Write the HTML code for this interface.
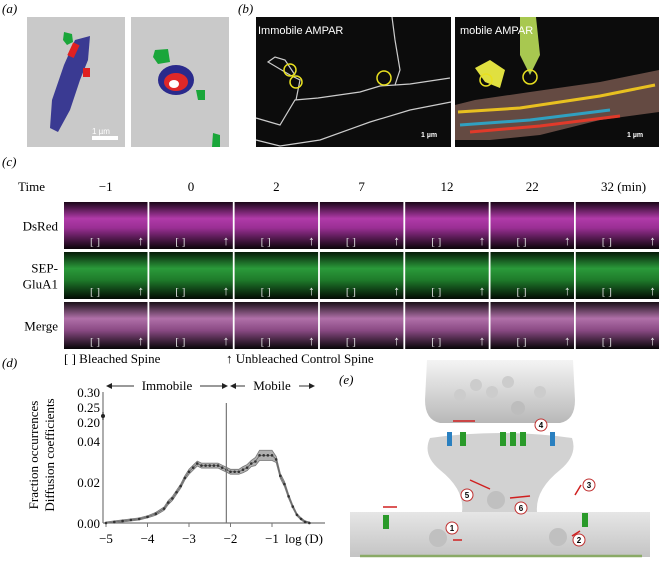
<!DOCTYPE html>
<html><head><meta charset="utf-8">
<style>
html,body{margin:0;padding:0;background:#fff;}
svg{display:block;font-family:"Liberation Serif",serif;}
.sans{font-family:"Liberation Sans",sans-serif;}
</style></head>
<body>
<svg id="fig" width="659" height="565" viewBox="0 0 659 565" xmlns="http://www.w3.org/2000/svg">
<defs>
 <linearGradient id="mag" x1="0" y1="0" x2="0" y2="1">
  <stop offset="0" stop-color="#1a0618"/><stop offset="0.35" stop-color="#b03aa8"/><stop offset="0.55" stop-color="#9a2f94"/><stop offset="1" stop-color="#0a0308"/>
 </linearGradient>
 <linearGradient id="grn" x1="0" y1="0" x2="0" y2="1">
  <stop offset="0" stop-color="#061a08"/><stop offset="0.35" stop-color="#2a9a3a"/><stop offset="0.6" stop-color="#1e7a2a"/><stop offset="1" stop-color="#020a03"/>
 </linearGradient>
 <linearGradient id="mrg" x1="0" y1="0" x2="0" y2="1">
  <stop offset="0" stop-color="#1a1018"/><stop offset="0.35" stop-color="#b070a8"/><stop offset="0.6" stop-color="#8a4a84"/><stop offset="1" stop-color="#060406"/>
 </linearGradient>
 <linearGradient id="gr1" x1="0" y1="0" x2="0" y2="1">
  <stop offset="0" stop-color="#f4f4f4"/><stop offset="1" stop-color="#b8b8b8"/>
 </linearGradient>
 <linearGradient id="gr2" x1="0" y1="0" x2="0" y2="1">
  <stop offset="0" stop-color="#e6e6e6"/><stop offset="1" stop-color="#c4c4c4"/>
 </linearGradient>
</defs>

<!-- Panel a -->
<text x="2" y="13" font-size="13" font-style="italic">(a)</text>
<g>
 <rect x="27" y="17" width="98" height="130" fill="#c9c9c9"/>
 <path d="M75 40 L90 36 L88 60 L80 80 L70 110 L58 132 L50 128 L52 100 L64 65 Z" fill="#2a2a8c" opacity="0.9"/>
 <rect x="70" y="43" width="7" height="14" fill="#e02020" transform="rotate(25 73 50)"/>
 <rect x="83" y="68" width="7" height="9" fill="#e02020"/>
 <path d="M64 32 L72 34 L73 42 L67 45 L63 40Z" fill="#1aa63a"/>
 <rect x="92" y="136" width="26" height="4" fill="#fff"/>
 <text class="sans" x="92" y="134" font-size="8" fill="#fff">1 µm</text>
</g>
<g>
 <rect x="131" y="17" width="98" height="130" fill="#c9c9c9"/>
 <path d="M155 50 L168 49 L170 62 L158 64 L153 57Z" fill="#1aa63a"/>
 <ellipse cx="176" cy="80" rx="18" ry="15" fill="#2a2a8c"/>
 <ellipse cx="176" cy="82" rx="12" ry="9" fill="#e02828"/>
 <ellipse cx="174" cy="84" rx="5" ry="4" fill="#fff"/>
 <path d="M196 90 L205 90 L205 100 L198 100Z" fill="#1aa63a"/>
 <path d="M213 133 L220 135 L220 147 L212 147Z" fill="#1aa63a"/>
</g>

<!-- Panel b -->
<text x="238" y="13" font-size="13" font-style="italic">(b)</text>
<g>
 <rect x="256" y="17" width="195" height="130" fill="#0c0c0c"/>
 <path d="M256 118 L280 125 L295 100 L318 98 L360 92 L380 86 L395 85 L400 70 L395 40 L392 17" fill="none" stroke="#ccc" stroke-width="1.2"/>
 <path d="M296 100 L300 80 L290 75 L268 62 L275 57 L285 60 L295 75" fill="none" stroke="#ccc" stroke-width="1.2"/>
 <path d="M395 85 L410 84 L450 78" fill="none" stroke="#ccc" stroke-width="1.2"/>
 <path d="M256 140 L280 146 L320 140 L370 122 L410 110 L451 102" fill="none" stroke="#ccc" stroke-width="1.2"/>
 <circle cx="290" cy="70" r="6" fill="none" stroke="#e8e020" stroke-width="1.5"/>
 <circle cx="296" cy="82" r="6" fill="none" stroke="#e8e020" stroke-width="1.5"/>
 <circle cx="384" cy="78" r="7" fill="none" stroke="#e8e020" stroke-width="1.5"/>
 <text class="sans" x="258" y="34" font-size="11" fill="#fff">Immobile AMPAR</text>
 <text class="sans" x="421" y="137" font-size="7" fill="#fff" font-weight="bold">1 µm</text>
</g>
<g>
 <rect x="455" y="17" width="204" height="130" fill="#0c0c0c"/>
 <path d="M455 105 L475 100 L530 92 L600 82 L659 70 L659 112 L600 120 L540 135 L490 140 L455 140Z" fill="#7a5a50" opacity="0.8"/>
 <path d="M458 112 L520 108 L600 96 L655 85" stroke="#e8c020" stroke-width="3" fill="none"/>
 <path d="M460 125 L530 120 L610 110" stroke="#30a0c0" stroke-width="3" fill="none"/>
 <path d="M470 132 L540 126 L620 116" stroke="#e03a2a" stroke-width="3" fill="none"/>
 <path d="M520 17 L536 17 L540 55 L530 75 L520 55Z" fill="#a8c850"/>
 <path d="M475 68 L490 60 L505 70 L500 88 L485 82Z" fill="#e0e040"/>
 <circle cx="486" cy="80" r="6" fill="none" stroke="#e8e020" stroke-width="1.5"/>
 <circle cx="530" cy="77" r="7" fill="none" stroke="#e8e020" stroke-width="1.5"/>
 <text class="sans" x="460" y="34" font-size="11" fill="#fff">mobile AMPAR</text>
 <text class="sans" x="627" y="137" font-size="7" fill="#fff" font-weight="bold">1 µm</text>
</g>

<!-- Panel c -->
<text x="2" y="166" font-size="13" font-style="italic">(c)</text>
<g id="panelC"></g>
<text x="64" y="363" font-size="13">[ ] Bleached Spine</text>
<text x="226" y="363" font-size="13">↑ Unbleached Control Spine</text>

<!-- Panel d -->
<text x="2" y="367" font-size="13" font-style="italic">(d)</text>
<g id="chart"></g>

<!-- Panel e -->
<text x="339" y="384" font-size="13" font-style="italic">(e)</text>
<g>
 <rect x="350" y="512" width="300" height="45" fill="url(#gr2)"/>
 <path d="M427 360 L573 360 L575 400 Q575 420 560 423 L440 423 Q425 420 425 400Z" fill="url(#gr1)"/>
 <path d="M430 438 Q500 428 572 438 Q578 455 560 470 Q535 490 537 512 L462 512 Q465 490 440 470 Q422 455 430 438Z" fill="#d2d2d2"/>
 <circle cx="460" cy="395" r="6" fill="#ccc"/><circle cx="476" cy="385" r="6" fill="#ccc"/><circle cx="492" cy="392" r="6" fill="#ccc"/><circle cx="508" cy="382" r="6" fill="#ccc"/><circle cx="540" cy="392" r="6" fill="#ccc"/>
 <circle cx="518" cy="408" r="7" fill="#bdbdbd"/>
 <line x1="360" y1="556" x2="642" y2="556" stroke="#8aaa66" stroke-width="2.5"/>
 <g fill="#2a9a2a"><rect x="500" y="432" width="6" height="14"/><rect x="510" y="432" width="6" height="14"/><rect x="520" y="432" width="6" height="14"/><rect x="460" y="432" width="6" height="14"/><rect x="383" y="515" width="6" height="14"/><rect x="582" y="513" width="6" height="14"/></g>
 <g fill="#2a80c0"><rect x="447" y="432" width="5" height="14"/><rect x="550" y="432" width="5" height="14"/></g>
 <circle cx="438" cy="538" r="9" fill="#c0c0c0"/><circle cx="558" cy="537" r="9" fill="#c0c0c0"/><circle cx="496" cy="500" r="9" fill="#c0c0c0"/>
 <g fill="#fff" stroke="#c03030" stroke-width="1" font-size="9" class="sans">
  <circle cx="452" cy="528" r="6"/><circle cx="579" cy="540" r="6"/><circle cx="589" cy="485" r="6"/><circle cx="541" cy="425" r="6"/><circle cx="467" cy="495" r="6"/><circle cx="521" cy="508" r="6"/>
 </g>
 <g font-size="8" class="sans" text-anchor="middle" font-weight="bold">
  <text x="452" y="531">1</text><text x="579" y="543">2</text><text x="589" y="488">3</text><text x="541" y="428">4</text><text x="467" y="498">5</text><text x="521" y="511">6</text>
 </g>
 <g stroke="#d02020" stroke-width="1.5">
  <line x1="453" y1="540" x2="462" y2="540"/><line x1="510" y1="498" x2="530" y2="496"/><line x1="572" y1="536" x2="580" y2="531"/><line x1="581" y1="485" x2="575" y2="495"/><line x1="470" y1="480" x2="490" y2="489"/><line x1="453" y1="421" x2="475" y2="421"/><line x1="383" y1="507" x2="397" y2="507"/>
 </g>
</g>

<script>
// ---------- Panel c data ----------
const timeLabels = ["−1","0","2","7","12","22","32 (min)"];
const rowLabels = [["DsRed"],["SEP-","GluA1"],["Merge"]];
const rowFills = ["url(#mag)","url(#grn)","url(#mrg)"];
(function(){
 const g=document.getElementById('panelC');
 const ns="http://www.w3.org/2000/svg";
 const x0=64, pitch=85.3, tw=83.5, rowsY=[202,252,302], rh=47;
 const tt=document.createElementNS(ns,'text');
 tt.setAttribute('x',45);tt.setAttribute('y',191);tt.setAttribute('font-size',13);tt.setAttribute('text-anchor','end');tt.textContent="Time";
 
 
 g.appendChild(tt);
 timeLabels.forEach((t,i)=>{
  const e=document.createElementNS(ns,'text');
  e.setAttribute('x',x0+i*pitch+tw/2+(i==6?6:0));e.setAttribute('y',191);e.setAttribute('font-size',13);e.setAttribute('text-anchor','middle');e.textContent=t;
  
  
  g.appendChild(e);
 });
 rowLabels.forEach((lines,r)=>{
  lines.forEach((l,k)=>{
   const e=document.createElementNS(ns,'text');
   const yy=rowsY[r]+rh/2+5+(lines.length>1?(k?8:-8):0);
   e.setAttribute('x',58);e.setAttribute('y',yy);e.setAttribute('font-size',13);e.setAttribute('text-anchor','end');e.textContent=l;
   
   
   g.appendChild(e);
  });
  for(let i=0;i<7;i++){
   const x=x0+i*pitch;
   const rc=document.createElementNS(ns,'rect');
   rc.setAttribute('x',x);rc.setAttribute('y',rowsY[r]);rc.setAttribute('width',tw);rc.setAttribute('height',rh);rc.setAttribute('fill',rowFills[r]);
   
   
   g.appendChild(rc);
   const br=document.createElementNS(ns,'text');
   br.setAttribute('x',x+26);br.setAttribute('y',rowsY[r]+rh-4);br.setAttribute('font-size',11);br.setAttribute('fill','#ddd');br.textContent="[ ]";
   
   
   g.appendChild(br);
   const ar=document.createElementNS(ns,'text');
   ar.setAttribute('x',x+tw-10);ar.setAttribute('y',rowsY[r]+rh-4);ar.setAttribute('font-size',13);ar.setAttribute('fill','#eee');ar.textContent="↑";
   
   
   g.appendChild(ar);
  }
 });
})();

// ---------- Panel d data ----------
const logD = [-5,-4.8,-4.6,-4.4,-4.2,-4.0,-3.8,-3.6,-3.5,-3.4,-3.3,-3.2,-3.1,-3.0,-2.9,-2.8,-2.7,-2.6,-2.5,-2.4,-2.3,-2.2,-2.1,-2.0,-1.9,-1.8,-1.7,-1.6,-1.5,-1.4,-1.3,-1.2,-1.1,-1.0,-0.9,-0.8,-0.7,-0.6,-0.5,-0.4,-0.3,-0.2,-0.1];
const fraction = [0.000,0.0005,0.001,0.0015,0.002,0.003,0.0045,0.007,0.010,0.012,0.015,0.018,0.022,0.025,0.027,0.029,0.028,0.028,0.028,0.028,0.028,0.027,0.026,0.025,0.025,0.025,0.026,0.027,0.029,0.030,0.033,0.033,0.033,0.033,0.031,0.023,0.019,0.013,0.008,0.004,0.002,0.0005,0.0];
const bandWidth = [0.0005,0.0005,0.0005,0.0005,0.0005,0.0005,0.0007,0.0008,0.001,0.001,0.001,0.001,0.001,0.0012,0.0012,0.0012,0.0012,0.0012,0.0012,0.0012,0.0012,0.0012,0.0012,0.0012,0.0012,0.0012,0.0015,0.0015,0.0015,0.002,0.0025,0.0025,0.0025,0.0025,0.0015,0.0012,0.0012,0.001,0.0008,0.0006,0.0005,0.0005,0.0005];
const outlierX = [-5];
const outlierY = [0.22];
const xTicks = [-5,-4,-3,-2,-1];
const xTickLabels = ["−5","−4","−3","−2","−1"];
const yTicksLow = [0.00,0.02,0.04];
const yTickLowLabels = ["0.00","0.02","0.04"];
const yTicksHigh = [0.20,0.25,0.30];
const yTickHighLabels = ["0.20","0.25","0.30"];
const splitX = [-2.1];

(function(){
 const ns="http://www.w3.org/2000/svg";
 const g=document.getElementById('chart');
 const X=v=>106+(v+5)*41.5;
 const Ylow=v=>523-v*2050;
 const Yhigh=v=>422-(v-0.20)*300;
 function el(tag,attrs,name){const e=document.createElementNS(ns,tag);for(const k in attrs)e.setAttribute(k,attrs[k]);
   
   
   g.appendChild(e);return e;}
 el('line',{x1:103,y1:523,x2:325,y2:523,stroke:'#777','stroke-width':1.2},'x-axis');
 el('line',{x1:103,y1:392,x2:103,y2:523,stroke:'#777','stroke-width':1.2},'y-axis');
 xTicks.forEach((t,i)=>{
  el('line',{x1:X(t),y1:523,x2:X(t),y2:527,stroke:'#777'},'x-tick');
  const tx=el('text',{x:X(t),y:543,'font-size':13,'text-anchor':'middle'},'x-tick-label');tx.textContent=xTickLabels[i];
 });
 const xl=el('text',{x:285,y:543,'font-size':13},'x-axis-title');xl.textContent="log (D)";
 yTicksLow.forEach((t,i)=>{
  const tx=el('text',{x:100,y:Ylow(t)+5,'font-size':13,'text-anchor':'end'},'y-tick-label');tx.textContent=yTickLowLabels[i];
 });
 yTicksHigh.forEach((t,i)=>{
  const tx=el('text',{x:100,y:Yhigh(t)+5,'font-size':13,'text-anchor':'end'},'y-tick-label');tx.textContent=yTickHighLabels[i];
 });
 const yt=el('text',{transform:'translate(38,455) rotate(-90)','font-size':13,'text-anchor':'middle'},'y-axis-title-line1');yt.textContent="Fraction occurrences";
 const yt2=el('text',{transform:'translate(54,455) rotate(-90)','font-size':13,'text-anchor':'middle'},'y-axis-title-line2');yt2.textContent="Diffusion coefficients";
 let up=logD.map((x,i)=>X(x)+','+Ylow(fraction[i]+bandWidth[i]));
 let dn=logD.map((x,i)=>X(x)+','+Ylow(Math.max(0,fraction[i]-bandWidth[i]))).reverse();
 el('polygon',{points:up.concat(dn).join(' '),fill:'#b0b0b0',stroke:'#777','stroke-width':0.8},'confidence-band');
 el('polyline',{points:logD.map((x,i)=>X(x)+','+Ylow(fraction[i])).join(' '),fill:'none',stroke:'#666','stroke-width':0.8},'mean-line');
 logD.forEach((x,i)=>el('circle',{cx:X(x),cy:Ylow(fraction[i]),r:1.3,fill:'#333'},'data-point'));
 outlierX.forEach((x,i)=>{
  el('circle',{cx:X(x)-3,cy:Yhigh(outlierY[i]),r:2,fill:'#222'},'outlier-point');
  el('line',{x1:X(x)-3,y1:Yhigh(outlierY[i])-4,x2:X(x)-3,y2:Yhigh(outlierY[i])+4,stroke:'#222'},'outlier-errorbar');
 });
 splitX.forEach(s=>el('line',{x1:X(s),y1:403,x2:X(s),y2:523,stroke:'#777','stroke-width':1.2},'immobile-mobile-divider'));
 const imm=el('text',{x:167,y:390,'font-size':13,'text-anchor':'middle'},'immobile-label');imm.textContent="Immobile";
 const mob=el('text',{x:272,y:390,'font-size':13,'text-anchor':'middle'},'mobile-label');mob.textContent="Mobile";
 [[108,134],[200,226],[231,245],[299,313]].forEach(([a,b])=>{
  el('line',{x1:a,y1:386,x2:b,y2:386,stroke:'#333'},'region-arrow');
 });
 el('polygon',{points:'106,386 112,383 112,389',fill:'#222'},'arrowhead');
 el('polygon',{points:'228,386 222,383 222,389',fill:'#222'},'arrowhead');
 el('polygon',{points:'230,386 236,383 236,389',fill:'#222'},'arrowhead');
 el('polygon',{points:'315,386 309,383 309,389',fill:'#222'},'arrowhead');
})();
</script>
</svg>
</body></html>
